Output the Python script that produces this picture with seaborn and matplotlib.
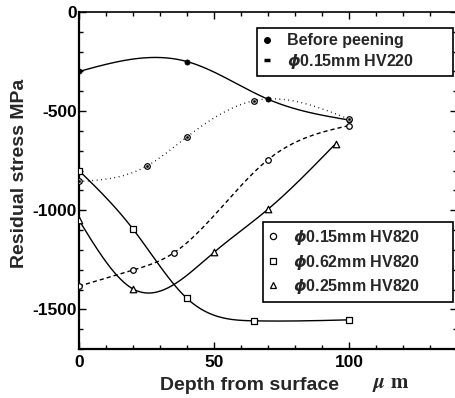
import numpy as np
import pandas as pd
import matplotlib
matplotlib.use("Agg")
import matplotlib.pyplot as plt
from matplotlib.lines import Line2D
import seaborn as sns

# ---- data ----
depth_before = [0, 40, 70, 100]
stress_before = [-300, -250, -440, -545]

depth_hv220 = [0, 25, 40, 65, 100]
stress_hv220 = [-855, -778, -630, -447, -540]

depth_c015 = [0, 20, 35, 70, 100]
stress_c015 = [-1383, -1302, -1216, -745, -573]

depth_c062 = [0, 20, 40, 65, 100]
stress_c062 = [-800, -1095, -1445, -1558, -1553]

depth_c025 = [0, 20, 50, 70, 95]
stress_c025 = [-1050, -1397, -1212, -995, -665]

labels_top = ["Before peening", r"$\phi$0.15mm HV220"]
labels_bottom = [r"$\phi$0.15mm HV820", r"$\phi$0.62mm HV820", r"$\phi$0.25mm HV820"]

xticks_major = [0, 50, 100]
yticks_major = [0, -500, -1000, -1500]


def smooth_curve(x, y, num=300):
    """Natural cubic spline through the measured points (drawing only)."""
    x = np.asarray(x, float)
    y = np.asarray(y, float)
    n = len(x)
    h = np.diff(x)
    A = np.zeros((n, n))
    b = np.zeros(n)
    A[0, 0] = 1
    A[-1, -1] = 1
    for i in range(1, n - 1):
        A[i, i - 1] = h[i - 1]
        A[i, i] = 2 * (h[i - 1] + h[i])
        A[i, i + 1] = h[i]
        b[i] = 3 * ((y[i + 1] - y[i]) / h[i] - (y[i] - y[i - 1]) / h[i - 1])
    c = np.linalg.solve(A, b)
    bb = (y[1:] - y[:-1]) / h - h * (2 * c[:-1] + c[1:]) / 3
    d = (c[1:] - c[:-1]) / (3 * h)
    xs = np.linspace(x[0], x[-1], num)
    idx = np.clip(np.searchsorted(x, xs, side="right") - 1, 0, n - 2)
    dx = xs - x[idx]
    ys = y[idx] + bb[idx] * dx + c[idx] * dx ** 2 + d[idx] * dx ** 3
    return pd.DataFrame({"depth": xs, "stress": ys})


sns.set_theme(style="ticks")
plt.rcParams["font.family"] = ["Liberation Sans", "DejaVu Sans"]
plt.rcParams["font.weight"] = "bold"
plt.rcParams["mathtext.fontset"] = "dejavusans"

fig = plt.figure(figsize=(4.55, 3.98), dpi=100)
W, H = 455.0, 398.0
x0, x1 = 79, 79 + 140 * 2.7
y_top, y_bot = 12, 349
ax = fig.add_axes([x0 / W, 1 - y_bot / H, (x1 - x0) / W, (y_bot - y_top) / H])

lw = 1.0
series = [
    (depth_before, stress_before, "-"),
    (depth_hv220, stress_hv220, (0, (0.6, 2.6))),
    (depth_c015, stress_c015, (0, (3.0, 2.2))),
    (depth_c062, stress_c062, "-"),
    (depth_c025, stress_c025, "-"),
]
for dx_, dy_, ls in series:
    df = smooth_curve(dx_, dy_)
    sns.lineplot(data=df, x="depth", y="stress", ax=ax, color="black",
                 linewidth=lw, linestyle=ls, sort=False, estimator=None, zorder=2)

# markers
sns.scatterplot(x=depth_before, y=stress_before, ax=ax, marker="o", s=14,
                color="black", edgecolor="black", linewidth=0.5, zorder=4)
sns.scatterplot(x=depth_hv220, y=stress_hv220, ax=ax, marker="o", s=16,
                color="white", edgecolor="black", linewidth=0.9, zorder=4)
sns.scatterplot(x=depth_hv220, y=stress_hv220, ax=ax, marker="o", s=3,
                color="black", edgecolor="black", linewidth=0.3, zorder=5)
sns.scatterplot(x=depth_c015, y=stress_c015, ax=ax, marker="o", s=16,
                color="white", edgecolor="black", linewidth=0.9, zorder=4)
sns.scatterplot(x=depth_c062, y=stress_c062, ax=ax, marker="s", s=14,
                color="white", edgecolor="black", linewidth=0.9, zorder=4)
sns.scatterplot(x=depth_c025, y=stress_c025, ax=ax, marker="^", s=22,
                color="white", edgecolor="black", linewidth=0.9, zorder=4)

ax.set_xlim(0, 140)
ax.set_ylim(-1700, 0)
ax.set_xticks(xticks_major)
ax.set_xticklabels([str(v) for v in xticks_major])
ax.set_xticks(np.arange(0, 141, 10), minor=True)
ax.set_yticks(yticks_major)
ax.set_yticklabels([str(v) for v in yticks_major])
ax.set_yticks(np.arange(-1700, 1, 100), minor=True)
ax.tick_params(axis="both", which="both", direction="in", top=True, right=True,
               colors="black", labelsize=12.5)
ax.tick_params(axis="both", which="major", length=5, width=1.0)
ax.tick_params(axis="both", which="minor", length=3, width=1.0)
ax.tick_params(axis="y", pad=1.5)
ax.tick_params(axis="x", pad=4)
for lab in ax.get_xticklabels() + ax.get_yticklabels():
    lab.set_fontweight("bold")
ax.set_xlabel("")
ax.set_ylabel("")
ax.spines["left"].set_linewidth(1.6)
ax.spines["bottom"].set_linewidth(1.6)
ax.spines["top"].set_linewidth(1.2)
ax.spines["right"].set_visible(False)
for s in ax.spines.values():
    s.set_color("black")

fig.text(20 / W, 1 - 173 / H, "Residual stress MPa", rotation=90, ha="center",
         va="center", fontsize=14, fontweight="bold")
fig.text(160 / W, 1 - 385 / H, "Depth from surface", ha="left", va="center",
         fontsize=14, fontweight="bold")
t = fig.text(372 / W, 1 - 384 / H, r"$\mu\ \mathrm{m}$", ha="left", va="center",
             fontsize=15)
t.set_math_fontfamily("stix")

# legends
h_top = [
    Line2D([], [], linestyle="none", marker="o", markersize=4, color="black"),
    Line2D([], [], linestyle="none", marker="_", markersize=5, markeredgewidth=2.5, color="black"),
]
h_bot = [
    Line2D([], [], linestyle="none", marker="o", markersize=4.5, mfc="white", mec="black", mew=0.9),
    Line2D([], [], linestyle="none", marker="s", markersize=4.5, mfc="white", mec="black", mew=0.9),
    Line2D([], [], linestyle="none", marker="^", markersize=5, mfc="white", mec="black", mew=0.9),
]
common = dict(frameon=True, fancybox=False, edgecolor="black", framealpha=1,
              loc="upper left", mode="expand", borderaxespad=0,
              handlelength=0.6, handletextpad=0.95,
              prop={"size": 11.5, "weight": "bold"})
leg1 = fig.legend(h_top, labels_top, bbox_to_anchor=(257 / W, 1 - 77 / H, 196 / W, 49 / H),
                  labelspacing=0.2, borderpad=0.33, **common)
leg2 = fig.legend(h_bot, labels_bottom, bbox_to_anchor=(263 / W, 1 - 302 / H, 190 / W, 80 / H),
                  labelspacing=0.32, borderpad=0.32, **common)
for lg in (leg1, leg2):
    lg.get_frame().set_linewidth(1.2)

fig.savefig("out.png", dpi=100)
